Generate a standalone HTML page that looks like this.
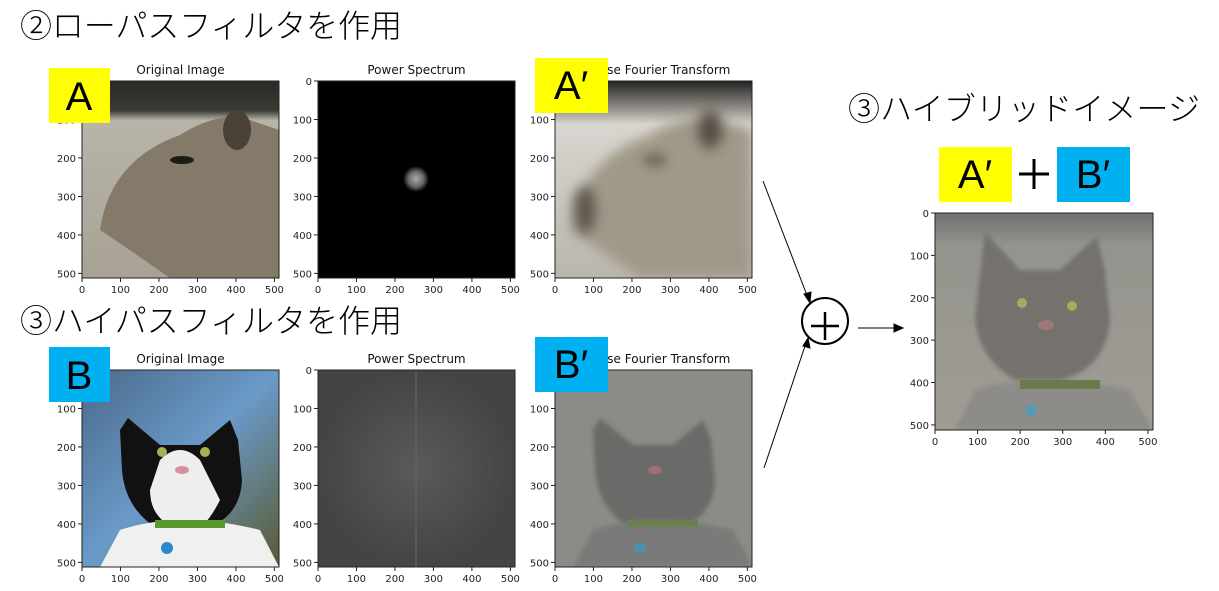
<!DOCTYPE html>
<html><head><meta charset="utf-8">
<style>
html,body{margin:0;padding:0;background:#fff;width:1219px;height:591px;overflow:hidden}
svg{display:block}
.tk{font-family:"DejaVu Sans","Liberation Sans",sans-serif;font-size:10px;fill:#222}
.ttl{font-family:"DejaVu Sans","Liberation Sans",sans-serif;font-size:12px;fill:#111}
.big{font-family:"Liberation Sans","Noto Sans CJK JP",sans-serif;font-size:32px;font-weight:300;fill:#000}
.lab{font-family:"Liberation Sans","Noto Sans CJK JP",sans-serif;font-size:40px;fill:#000}
</style></head><body>
<svg id="s" width="1219" height="591" viewBox="0 0 1219 591" xmlns="http://www.w3.org/2000/svg">
<defs>
<radialGradient id="glow"><stop offset="0" stop-color="#aaa"/><stop offset="0.6" stop-color="#666"/><stop offset="1" stop-color="#000"/></radialGradient>
<radialGradient id="ps2"><stop offset="0" stop-color="#5a5a5a"/><stop offset="1" stop-color="#444"/></radialGradient>
<linearGradient id="capbg" x1="0" y1="0" x2="0" y2="1"><stop offset="0" stop-color="#2a2a26"/><stop offset="0.15" stop-color="#3a3a34"/><stop offset="0.2" stop-color="#b8b4aa"/><stop offset="1" stop-color="#a8a294"/></linearGradient>
<linearGradient id="blurbg" x1="0" y1="0" x2="0" y2="1"><stop offset="0" stop-color="#222"/><stop offset="0.15" stop-color="#9a9890"/><stop offset="0.22" stop-color="#d8d6d0"/><stop offset="1" stop-color="#bab6ae"/></linearGradient>
<linearGradient id="catbg" x1="0" y1="0" x2="1" y2="1"><stop offset="0" stop-color="#4a6a8a"/><stop offset="0.5" stop-color="#6a9ac8"/><stop offset="1" stop-color="#5a5a30"/></linearGradient>
<linearGradient id="hybbg" x1="0" y1="0" x2="0" y2="1"><stop offset="0" stop-color="#707070"/><stop offset="0.15" stop-color="#94948e"/><stop offset="1" stop-color="#a09c94"/></linearGradient>
<filter id="bl"><feGaussianBlur stdDeviation="6"/></filter>
<filter id="bl2"><feGaussianBlur stdDeviation="2"/></filter>
<clipPath id="c1"><rect x="82" y="81" width="197" height="197"/></clipPath>
<clipPath id="c3"><rect x="555" y="81" width="197" height="197"/></clipPath>
<clipPath id="c4"><rect x="82" y="370" width="197" height="197"/></clipPath>
<clipPath id="c6"><rect x="555" y="370" width="197" height="197"/></clipPath>
<clipPath id="c7"><rect x="935" y="213" width="218" height="217"/></clipPath>
</defs>

<text class="big" x="20" y="37" textLength="382">②ローパスフィルタを作用</text>
<text class="big" x="20" y="332" textLength="382">③ハイパスフィルタを作用</text>
<text class="big" x="848" y="120" textLength="352">③ハイブリッドイメージ</text>

<g clip-path="url(#c1)">
<rect x="82" y="81" width="197" height="197" fill="url(#capbg)"/>
<path d="M100 230 Q110 160 180 135 Q220 110 250 120 L279 130 L279 278 L170 278 Q130 250 100 230Z" fill="#85796a"/>
<ellipse cx="237" cy="130" rx="14" ry="20" fill="#4a4236"/>
<ellipse cx="182" cy="160" rx="12" ry="4" fill="#1e1a16"/>
</g>
<rect x="318" y="81" width="197" height="197" fill="#000"/>
<circle cx="416" cy="179" r="13" fill="url(#glow)"/>
<g clip-path="url(#c3)">
<rect x="555" y="81" width="197" height="197" fill="url(#blurbg)"/>
<g filter="url(#bl)">
<path d="M570 230 Q580 160 650 135 Q690 110 720 120 L752 130 L752 278 L640 278 Q600 250 570 230Z" fill="#a09888"/>
<ellipse cx="710" cy="130" rx="14" ry="20" fill="#5a5046"/>
<ellipse cx="655" cy="160" rx="12" ry="5" fill="#3a342c"/>
<ellipse cx="585" cy="210" rx="12" ry="25" fill="#5e5850"/>
</g></g>

<g clip-path="url(#c4)">
<rect x="82" y="370" width="197" height="197" fill="url(#catbg)"/>
<path d="M120 430 L128 418 L160 445 L200 445 L230 420 L238 440 L242 480 Q240 520 200 530 L160 530 Q125 510 122 470Z" fill="#111"/>
<path d="M160 460 Q180 440 200 460 L220 500 Q200 540 180 530 Q150 520 150 490Z" fill="#eee"/>
<path d="M120 530 Q180 510 260 530 L279 567 L100 567Z" fill="#f0f0ee"/>
<rect x="155" y="520" width="70" height="8" fill="#5a9a2a"/>
<circle cx="167" cy="548" r="6" fill="#2a8ac8"/>
<circle cx="162" cy="452" r="5" fill="#aab050"/><circle cx="205" cy="452" r="5" fill="#aab050"/>
<ellipse cx="182" cy="470" rx="7" ry="4" fill="#d890a0"/>
</g>
<rect x="318" y="370" width="197" height="197" fill="url(#ps2)"/>
<line x1="416" y1="370" x2="416" y2="567" stroke="#666" stroke-width="1"/>
<g clip-path="url(#c6)">
<rect x="555" y="370" width="197" height="197" fill="#8a8c88"/>
<g filter="url(#bl2)">
<path d="M593 430 L600 418 L633 445 L673 445 L703 420 L711 440 L715 480 Q713 520 673 530 L633 530 Q598 510 595 470Z" fill="#6a6a68"/>
<path d="M593 530 Q653 510 733 530 L752 567 L573 567Z" fill="#7a7a78"/>
</g>
<rect x="628" y="520" width="70" height="7" fill="#6a8050"/>
<circle cx="640" cy="548" r="6" fill="#4a90a8"/>
<ellipse cx="655" cy="470" rx="7" ry="4" fill="#a07078"/>
</g>

<g clip-path="url(#c7)">
<rect x="935" y="213" width="218" height="217" fill="url(#hybbg)"/>
<g filter="url(#bl2)">
<path d="M978 290 L985 232 L1020 270 L1060 270 L1097 236 L1105 270 L1110 320 Q1105 370 1060 380 L1015 380 Q980 360 975 320Z" fill="#74726e"/>
<path d="M975 390 Q1040 370 1130 390 L1153 430 L955 430Z" fill="#8e8c88"/>
</g>
<rect x="1020" y="380" width="80" height="9" fill="#6a7a4a"/>
<circle cx="1031" cy="410" r="6" fill="#5a9ab0"/>
<circle cx="1022" cy="303" r="5" fill="#a8a860"/><circle cx="1072" cy="306" r="5" fill="#a8a860"/>
<ellipse cx="1046" cy="325" rx="8" ry="5" fill="#a07878"/>
</g>

<g id="axes"></g>

<rect x="49" y="68" width="61" height="55" fill="#ffff00"/>
<text class="lab" x="79" y="110" text-anchor="middle">A</text>
<rect x="535" y="58" width="73" height="55" fill="#ffff00"/>
<text class="lab" x="571" y="99" text-anchor="middle">A′</text>
<rect x="49" y="347" width="61" height="55" fill="#00b0f0"/>
<text class="lab" x="79" y="389" text-anchor="middle">B</text>
<rect x="535" y="337" width="73" height="55" fill="#00b0f0"/>
<text class="lab" x="571" y="378" text-anchor="middle">B′</text>
<rect x="939" y="147" width="73" height="55" fill="#ffff00"/>
<text class="lab" x="975" y="188" text-anchor="middle">A′</text>
<g stroke="#000" stroke-width="3">
<line x1="1019" y1="174" x2="1049" y2="174"/><line x1="1034" y1="159" x2="1034" y2="189"/>
</g>
<rect x="1057" y="147" width="73" height="55" fill="#00b0f0"/>
<text class="lab" x="1093" y="188" text-anchor="middle">B′</text>

<g>
<circle cx="825" cy="321" r="23" fill="#fff" stroke="#000" stroke-width="2"/>
<line x1="811" y1="326" x2="839" y2="326" stroke="#000" stroke-width="2.5"/>
<line x1="825" y1="312" x2="825" y2="340" stroke="#000" stroke-width="2.5"/>
</g>
<g stroke="#000" stroke-width="1" fill="#000">
<line x1="763" y1="181" x2="808" y2="298"/><polygon points="810,303 804,294 811,292"/>
<line x1="764" y1="468" x2="806" y2="343"/><polygon points="808,338 810,348 803,346"/>
<line x1="858" y1="328" x2="896" y2="328"/><polygon points="903,328 894,324 894,332"/>
</g>
</svg>
<script>
const tickValues = [0, 100, 200, 300, 400, 500];
const imgSize = 512;
const titles = ["Original Image", "Power Spectrum", "Inverse Fourier Transform"];
const panels = [
 {x:82,y:81,w:197,h:197,t:0},{x:318,y:81,w:197,h:197,t:1},{x:555,y:81,w:197,h:197,t:2},
 {x:82,y:370,w:197,h:197,t:0},{x:318,y:370,w:197,h:197,t:1},{x:555,y:370,w:197,h:197,t:2},
 {x:935,y:213,w:218,h:217,t:-1}
];
const NS="http://www.w3.org/2000/svg";
const g=document.getElementById('axes');
function mk(tag,attrs){const e=document.createElementNS(NS,tag);for(const k in attrs)e.setAttribute(k,attrs[k]);g.appendChild(e);return e;}
panels.forEach((p,i)=>{
  const fx=v=>p.x+v/imgSize*p.w, fy=v=>p.y+v/imgSize*p.h;
  const fr=mk('rect',{x:p.x,y:p.y,width:p.w,height:p.h,fill:'none',stroke:'#222','stroke-width':1});
  
  
  tickValues.forEach(v=>{
    mk('line',{x1:fx(v),y1:p.y+p.h,x2:fx(v),y2:p.y+p.h+4,stroke:'#222'});
    mk('line',{x1:p.x-4,y1:fy(v),x2:p.x,y2:fy(v),stroke:'#222'});
    const tx=mk('text',{x:fx(v),y:p.y+p.h+15,'text-anchor':'middle',class:'tk'});
    tx.textContent=v;
    
    
    const ty=mk('text',{x:p.x-6,y:fy(v)+4,'text-anchor':'end',class:'tk'});
    ty.textContent=v;
    
    
  });
  if(p.t>=0){
    const t=mk('text',{x:p.x+p.w/2,y:p.y-7,'text-anchor':'middle',class:'ttl'});
    t.textContent=titles[p.t];
    
    
  }
});
</script>
</body></html>
